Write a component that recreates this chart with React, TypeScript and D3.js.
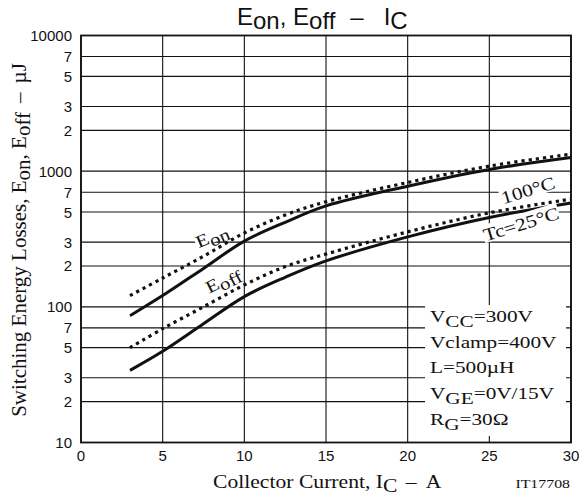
import { useEffect, useRef } from 'react';
import * as d3 from 'd3';

// collector current, A
const currents = [3, 5, 7.5, 10, 12.5, 15, 20, 25, 30];
// switching energy, uJ
const eon25 = [86, 121, 192, 305, 420, 555, 775, 1030, 1260];
const eon100 = [121, 163, 236, 350, 475, 595, 825, 1090, 1335];
const eoff25 = [34, 47, 75, 119, 165, 218, 328, 456, 583];
const eoff100 = [50, 69, 100, 145, 198, 245, 357, 493, 622];

const xTicks = [0, 5, 10, 15, 20, 25, 30];
const yGrid = [10, 20, 30, 50, 70, 100, 200, 300, 500, 700, 1000, 2000, 3000, 5000, 7000, 10000];
const yLabels = ['10', '2', '3', '5', '7', '100', '2', '3', '5', '7', '1000', '2', '3', '5', '7', '10000'];

const conditions: [string, string, string][] = [
  ['V', 'CC', '=300V'],
  ['Vclamp=400V', '', ''],
  ['L=500\u00B5H', '', ''],
  ['V', 'GE', '=0V/15V'],
  ['R', 'G', '=30\u03A9'],
];

const SANS = 'Liberation Sans, Arial, sans-serif';
const SERIF = 'Liberation Serif, Times New Roman, serif';

export default function App() {
  const ref = useRef<SVGSVGElement>(null);

  useEffect(() => {
    const svg = d3.select(ref.current!);
    svg.selectAll('*').remove();

    const x = d3.scaleLinear().domain([0, 30]).range([81, 571]);
    const y = d3.scaleLog().domain([10, 10000]).range([442.5, 35.5]);
    const [x0, x1] = x.range();
    const [y0, y1] = y.range();

    const g = svg.append('g');

    // grid
    g.selectAll('.hg').data(yGrid).join('line')
      .attr('x1', x0).attr('x2', x1)
      .attr('y1', (d) => y(d)).attr('y2', (d) => y(d))
      .attr('stroke', '#111').attr('stroke-width', 1.1);
    g.selectAll('.vg').data(xTicks).join('line')
      .attr('x1', (d) => x(d)).attr('x2', (d) => x(d))
      .attr('y1', y0).attr('y2', y1)
      .attr('stroke', '#111').attr('stroke-width', 1.1);

    // condition box (white, covers grid)
    g.append('rect').attr('x', 425).attr('y', 305).attr('width', 141).attr('height', 131).attr('fill', '#fff');

    // frame
    g.append('rect').attr('x', x0).attr('y', y1).attr('width', x1 - x0).attr('height', y0 - y1)
      .attr('fill', 'none').attr('stroke', '#111').attr('stroke-width', 1.8);

    // tick labels
    g.selectAll('.yl').data(yGrid).join('text')
      .attr('x', 72).attr('y', (d) => y(d) + 5.5)
      .attr('text-anchor', 'end').attr('font-family', SANS).attr('font-size', 15).attr('fill', '#111')
      .text((_, i) => yLabels[i]);
    g.selectAll('.xl').data(xTicks).join('text')
      .attr('x', (d) => x(d)).attr('y', 461)
      .attr('text-anchor', 'middle').attr('font-family', SANS).attr('font-size', 15).attr('fill', '#111')
      .text((d) => String(d));

    // curves
    const line = d3.line<number>().x((_, i) => x(currents[i])).y((d) => y(d)).curve(d3.curveCatmullRom.alpha(0.5));
    const series: { v: number[]; dotted: boolean }[] = [
      { v: eon100, dotted: true },
      { v: eoff100, dotted: true },
      { v: eon25, dotted: false },
      { v: eoff25, dotted: false },
    ];
    series.forEach((s) => {
      g.append('path').attr('d', line(s.v)!).attr('fill', 'none').attr('stroke', '#111')
        .attr('stroke-width', s.dotted ? 3.2 : 3)
        .attr('stroke-dasharray', s.dotted ? '3.2,4' : null);
    });

    // rotated labels with white backing
    const rotLabel = (cx: number, cy: number, angle: number, parts: [string, boolean][], fs: number, bw: number, bh: number) => {
      const lg = g.append('g').attr('transform', `translate(${cx},${cy}) rotate(${angle}) scale(1.2,1)`);
      if (bw > 0) lg.append('rect').attr('x', -bw / 2).attr('y', -bh / 2 - 1).attr('width', bw).attr('height', bh).attr('fill', '#fff');
      const t = lg.append('text').attr('text-anchor', 'middle').attr('y', fs * 0.35)
        .attr('font-family', SERIF).attr('font-size', fs).attr('fill', '#111');
      parts.forEach(([s, sub]) => {
        t.append('tspan').attr('dy', sub ? 4 : 0).text(s);
      });
    };
    rotLabel(212, 236, -23, [['E', false], ['on', true]], 17.5, 30, 15);
    rotLabel(223, 280, -27, [['E', false], ['off', true]], 17.5, 0, 0);
    rotLabel(528, 190, -17, [['100\u00B0C', false]], 18, 48, 18);
    rotLabel(521, 224, -17, [['Tc=25\u00B0C', false]], 18, 66, 18);

    // conditions
    conditions.forEach(([a, sub, b], i) => {
      const t = g.append('text').attr('transform', `translate(430,${322 + i * 25.7}) scale(1.25,1)`)
        .attr('font-family', SERIF).attr('font-size', 17).attr('fill', '#111');
      t.append('tspan').text(a);
      if (sub) {
        t.append('tspan').attr('dy', 5).text(sub);
        t.append('tspan').attr('dy', -5).text(b);
      }
    });

    // title
    const title = svg.append('text').attr('x', 237).attr('y', 25)
      .attr('font-family', SANS).attr('font-size', 24).attr('fill', '#111');
    title.append('tspan').text('E');
    title.append('tspan').attr('dy', 4).text('on');
    title.append('tspan').attr('dy', -4).text(', E');
    title.append('tspan').attr('dy', 4).text('off');
    title.append('tspan').attr('dy', -4).attr('dx', 15).text('\u2013');
    title.append('tspan').attr('dx', 20).text('I');
    title.append('tspan').attr('dy', 4).text('C');

    // y-axis title
    const yt = svg.append('text').attr('transform', `translate(26,240) rotate(-90)`).attr('text-anchor', 'middle')
      .attr('font-family', SERIF).attr('font-size', 21).attr('fill', '#111');
    yt.append('tspan').text('Switching Energy Losses, E');
    yt.append('tspan').attr('dy', 4).text('on');
    yt.append('tspan').attr('dy', -4).text(', E');
    yt.append('tspan').attr('dy', 4).text('off');
    yt.append('tspan').attr('dy', -4).attr('dx', 9).text('\u2013');
    yt.append('tspan').attr('dx', 9).text('\u00B5J');

    // x-axis title
    const xt = svg.append('text').attr('transform', 'translate(213,488) scale(1.17,1)')
      .attr('font-family', SERIF).attr('font-size', 18.5).attr('fill', '#111');
    xt.append('tspan').text('Collector Current, I');
    xt.append('tspan').attr('dy', 4).text('C');
    xt.append('tspan').attr('dy', -4).attr('dx', 7).text('\u2013');
    xt.append('tspan').attr('dx', 8).text('A');

    svg.append('text').attr('transform', 'translate(570,488) scale(1.22,1)').attr('text-anchor', 'end')
      .attr('font-family', SERIF).attr('font-size', 13).attr('fill', '#111').text('IT17708');
  }, []);

  return (
    <svg ref={ref} width={585} height={497}
      style={{ position: 'absolute', left: 0, top: 0, background: '#fff' }} />
  );
}
